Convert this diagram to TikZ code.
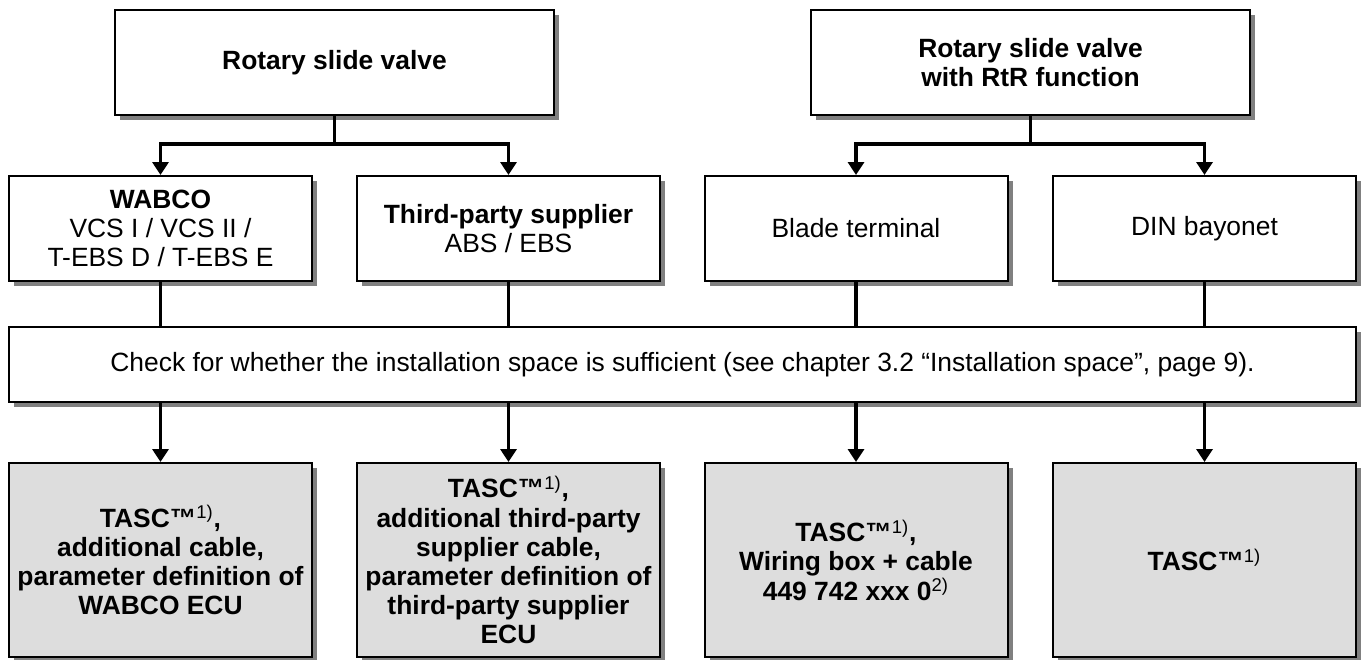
\documentclass[tikz,border=0pt]{standalone}
\usepackage{fontspec}
\setmainfont{Liberation Sans}
\usepackage{tikz}
\usetikzlibrary{shadows}
\usetikzlibrary{positioning}
\usetikzlibrary{arrows.meta}
\definecolor{shadowgrey}{HTML}{808080}
\definecolor{resultgrey}{HTML}{DDDDDD}
\newcommand{\boxfont}{\fontsize{13.2}{14.6}\selectfont}
\newcommand{\notemark}[1]{\textsuperscript{\mdseries #1}}
\tikzstyle{box}=[rectangle,draw=black,line width=1pt,fill=white,align=center,inner sep=2pt,font=\boxfont,drop shadow={shadow xshift=2.5pt,shadow yshift=-2.5pt,fill=shadowgrey,opacity=1}]
\tikzstyle{headbox}=[box,minimum width=219.5pt,minimum height=52.5pt,font=\boxfont\bfseries]
\tikzstyle{typebox}=[box,minimum width=151.5pt,minimum height=52.5pt]
\tikzstyle{checkbox}=[box,minimum width=673.5pt,minimum height=37.5pt]
\tikzstyle{resultbox}=[box,fill=resultgrey,minimum width=151.5pt,minimum height=97pt,font=\boxfont\bfseries]
\tikzstyle{edge}=[draw,line width=1.75pt]
\tikzstyle{arrowedge}=[edge,-{Triangle[width=8pt,length=6.5pt]}]

\begin{document}
\begin{tikzpicture}[x=0.5pt,y=-0.5pt]
    \useasboundingbox (0,0) rectangle (1363,659);
    % valve types
    \node[headbox] (rsv) at (334.5,62.5) {Rotary slide valve};
    \node[headbox] (rtr) at (1030.5,62.5) {Rotary slide valve\\with RtR function};

    % connection variants
    \node[typebox] (wabco) at (160.5,228.5) {\textbf{WABCO}\\VCS I / VCS II /\\T-EBS D / T-EBS E};
    \node[typebox] (third) at (508.5,228.5) {\textbf{Third-party supplier}\\ABS / EBS};
    \node[typebox] (blade) at (856,228.5) {Blade terminal};
    \node[typebox] (din) at (1204.5,228.5) {DIN bayonet};

    \node[checkbox] (check) at (682.5,364.5) {Check for whether the installation space is sufficient (see chapter 3.2 “Installation space”, page 9).};

    % what is needed
    \node[resultbox] (res1) at (160.5,560) {TASC™\notemark{1)},\\additional cable,\\parameter definition of\\WABCO ECU};
    \node[resultbox] (res2) at (508.5,560) {TASC™\notemark{1)},\\additional third-party\\supplier cable,\\parameter definition of\\third-party supplier\\ECU};
    \node[resultbox] (res3) at (856,560) {TASC™\notemark{1)},\\Wiring box + cable\\449 742 xxx 0\notemark{2)}};
    \node[resultbox] (res4) at (1204.5,560) {TASC™\notemark{1)}};

    \coordinate (rsvjoin) at (334.5,144);
    \coordinate (rtrjoin) at (1030.5,144);
    \path[edge] (rsv.south) -- (rsvjoin);
    \path[edge] (rtr.south) -- (rtrjoin);
    \foreach \source/\dest in {rsvjoin/wabco, rsvjoin/third, rtrjoin/blade, rtrjoin/din}
        \path[arrowedge] (\source) -| (\dest.north);

    \foreach \name in {wabco, third, blade, din}
        \path[edge] (\name.south) -- (\name.south |- check.north);
    \foreach \name in {res1, res2, res3, res4}
        \path[arrowedge] (\name.north |- check.south) -- (\name.north);
\end{tikzpicture}
\end{document}
